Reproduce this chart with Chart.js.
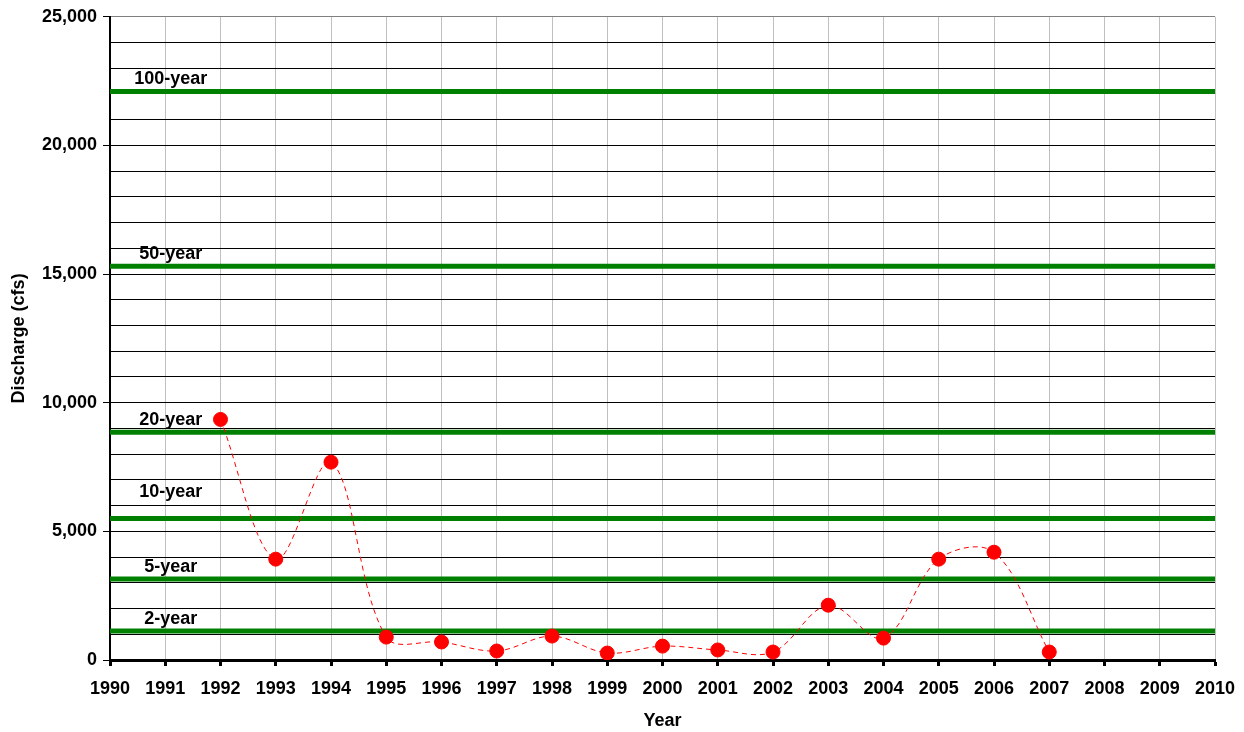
<!DOCTYPE html>
<html>
<head>
<meta charset="utf-8">
<title>Peak discharge by year</title>
<script src="https://cdn.jsdelivr.net/npm/chart.js@4.4.1/dist/chart.umd.min.js"></script>
<style>
  html, body { margin: 0; padding: 0; background: #fff; }
  #wrap { width: 1244px; height: 732px; }
</style>
</head>
<body>
<div id="wrap"><canvas id="flow-chart" width="1244" height="732"></canvas></div>
<script>
'use strict';

// DATA

let years = [1992, 1993, 1994, 1995, 1996, 1997, 1998, 1999, 2000, 2001, 2002, 2003, 2004, 2005, 2006, 2007];
let peakFlows = [9350, 3920, 7690, 890, 700, 350, 930, 270, 540, 390, 310, 2130, 850, 3920, 4190, 310];

let floodNames = ['2-year', '5-year', '10-year', '20-year', '50-year', '100-year'];
let floodFlows = [1130, 3150, 5500, 8850, 15300, 22100];

let yearMin = 1990;
let yearMax = 2010;
let flowMin = 0;
let flowMax = 25000;

// HELPERS

let fontFamily = 'Arial, "Liberation Sans", sans-serif';
let fontSize = 18;

let peakPoints = [];
for (let i = 0; i < years.length; i++) {
  peakPoints.push({ x: years[i], y: peakFlows[i] });
}

let datasets = [{
  label: 'Annual peak',
  data: peakPoints,
  borderColor: '#ff0000',
  borderWidth: 1,
  borderDash: [5, 4],
  backgroundColor: '#ff0000',
  pointBackgroundColor: '#ff0000',
  pointBorderColor: '#ff0000',
  pointRadius: 7,
  tension: 0.35
}];

for (let i = 0; i < floodNames.length; i++) {
  datasets.push({
    label: floodNames[i],
    data: [{ x: yearMin, y: floodFlows[i] }, { x: yearMax, y: floodFlows[i] }],
    borderColor: '#008000',
    borderWidth: 5,
    borderCapStyle: 'round',
    pointRadius: 0,
    tension: 0
  });
}

// label text above each recurrence line
let floodLabels = {
  id: 'floodLabels',
  afterDatasetsDraw(chart) {
    let ctx = chart.ctx;
    let xs = chart.scales.x;
    let ys = chart.scales.y;
    ctx.save();
    ctx.font = 'bold ' + fontSize + 'px ' + fontFamily;
    ctx.fillStyle = '#000';
    ctx.textAlign = 'center';
    ctx.textBaseline = 'middle';
    for (let i = 0; i < floodNames.length; i++) {
      let lift = floodNames[i] === '10-year' ? 26 : 12;
      ctx.fillText(floodNames[i], xs.getPixelForValue(1991.1), ys.getPixelForValue(floodFlows[i]) - lift);
    }
    ctx.restore();
  }
};

let chartObj = {
  type: 'line',
  data: { datasets: datasets },
  plugins: [floodLabels],
  options: {
    responsive: false,
    animation: false,
    layout: { padding: { top: 16, right: 29, left: 0, bottom: 0 } },
    plugins: {
      legend: { display: false },
      tooltip: { enabled: false }
    },
    scales: {
      x: {
        type: 'linear',
        min: yearMin,
        max: yearMax,
        afterFit(scale) {
          scale.height = 72;
          scale.paddingLeft = 0;
          scale.paddingRight = 0;
        },
        ticks: {
          stepSize: 1,
          color: '#000',
          padding: 12,
          font: { family: fontFamily, size: fontSize, weight: 'bold' },
          callback: (v) => String(v)
        },
        grid: {
          color: '#c0c0c0',
          lineWidth: 1,
          tickColor: '#000',
          tickWidth: 3,
          tickLength: 6
        },
        border: { color: '#000', width: 3 },
        title: {
          display: true,
          text: 'Year',
          color: '#000',
          font: { family: fontFamily, size: fontSize, weight: 'bold' },
          padding: { top: 4, bottom: 0 }
        }
      },
      y: {
        min: flowMin,
        max: flowMax,
        afterFit(scale) { scale.width = 110; },
        ticks: {
          stepSize: 1000,
          color: '#000',
          padding: 6,
          autoSkip: false,
          font: { family: fontFamily, size: fontSize, weight: 'bold' },
          callback: (v) => (v % 5000 === 0 ? v.toLocaleString('en-US') : '')
        },
        grid: {
          color: (c) => (c.tick && c.tick.value === flowMax ? '#808080' : '#000'),
          lineWidth: 1,
          tickColor: (c) => (c.tick && c.tick.value % 5000 === 0 ? '#000' : 'rgba(0,0,0,0)'),
          tickLength: 7
        },
        border: { color: '#000', width: 2 },
        title: {
          display: true,
          text: 'Discharge (cfs)',
          color: '#000',
          font: { family: fontFamily, size: fontSize, weight: 'bold' },
          padding: { top: 8, bottom: 4 }
        }
      }
    }
  }
};

let ctx = document.getElementById('flow-chart').getContext('2d');
new Chart(ctx, chartObj);
</script>
</body>
</html>
